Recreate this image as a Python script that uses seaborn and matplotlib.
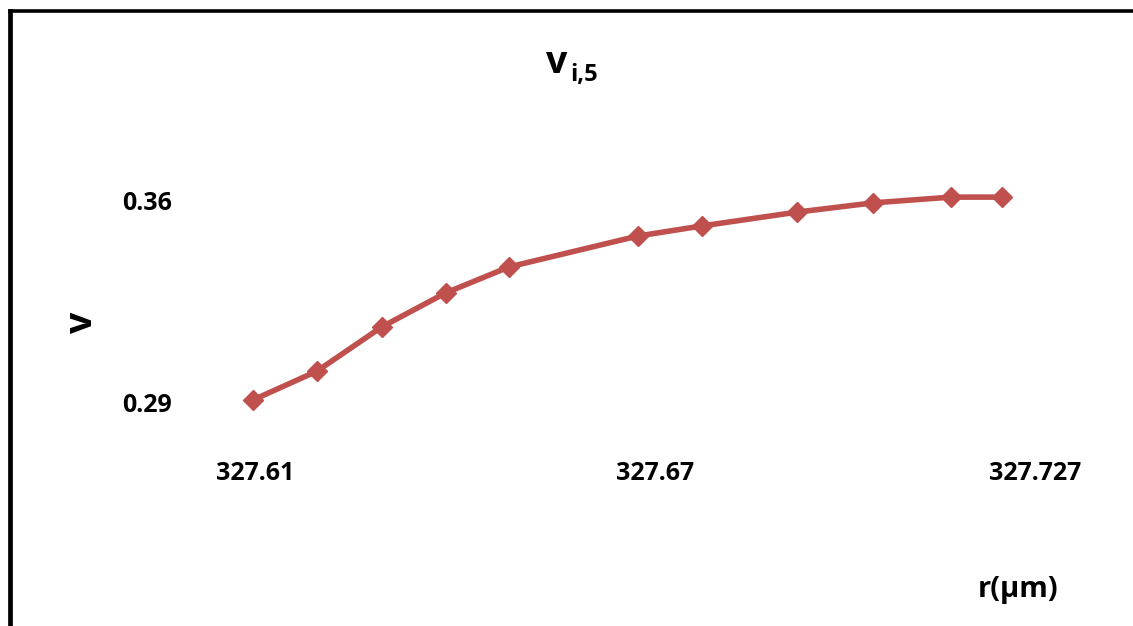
import matplotlib
matplotlib.use("Agg")
import matplotlib.pyplot as plt
from matplotlib.lines import Line2D
import seaborn as sns
import pandas as pd

# radius r (µm) and velocity v for profile i,5
r_um = [327.6097, 327.6193, 327.6290, 327.6386, 327.6481, 327.6674,
        327.6770, 327.6913, 327.7027, 327.7144, 327.7220]
v_vals = [0.2907, 0.3007, 0.3160, 0.3278, 0.3368, 0.3475,
          0.3510, 0.3558, 0.3590, 0.3610, 0.3610]

x_ticks = [327.61, 327.67, 327.727]
x_tick_labels = ["327.61", "327.67", "327.727"]
y_ticks = [0.29, 0.36]
y_tick_labels = ["0.29", "0.36"]

df = pd.DataFrame({"r": r_um, "v": v_vals})

sns.set_theme(style="white")
plt.rcParams["font.family"] = ["Open Sans", "DejaVu Sans"]
plt.rcParams["font.weight"] = "bold"
plt.rcParams["text.color"] = "black"
plt.rcParams["axes.labelcolor"] = "black"
plt.rcParams["xtick.color"] = "black"
plt.rcParams["ytick.color"] = "black"

W, H, DPI = 1133, 626, 100
fig = plt.figure(figsize=(W / DPI, H / DPI), dpi=DPI)
fig.patch.set_facecolor("white")

# plot area in pixels: left, right, top, bottom
L, R, T, B = 190, 1100, 150, 440
ax = fig.add_axes([L / W, 1 - B / H, (R - L) / W, (B - T) / H])

# data scale: pixels per unit
sx = 400 / 0.06
sy = 202 / 0.07
ax.set_xlim(327.61 - (255 - L) / sx, 327.61 + (R - 255) / sx)
ax.set_ylim(0.29 - (B - 402) / sy, 0.29 + (402 - T) / sy)

sns.lineplot(data=df, x="r", y="v", ax=ax, color="#C0504D", linewidth=4.0,
             marker="D", markersize=10.5, markeredgecolor="#C0504D",
             markeredgewidth=1, sort=False)

for s in ax.spines.values():
    s.set_visible(False)
ax.set_facecolor("none")

ax.set_xticks(x_ticks)
ax.set_xticklabels(x_tick_labels, fontsize=18, fontweight="bold")
ax.set_yticks(y_ticks)
ax.set_yticklabels(y_tick_labels, fontsize=18, fontweight="bold")
ax.tick_params(axis="x", length=0, pad=15)
ax.tick_params(axis="y", length=0, pad=13)
ax.grid(False)

ax.set_xlabel("r(µm)", fontsize=21, fontweight="bold")
ax.xaxis.set_label_coords((1018 - L) / (R - L), (B - 590) / (B - T))
ax.xaxis.label.set_va("center")
ax.set_ylabel("v", fontsize=27, fontweight="bold")
ax.yaxis.set_label_coords((82 - L) / (R - L), (B - 322) / (B - T))
ax.yaxis.label.set_va("center")

# title v with subscript i,5
fig.text(546 / W, 1 - 73 / H, "v", fontsize=27, fontweight="bold",
         ha="left", va="baseline")
fig.text(570 / W, 1 - 81 / H, "i,5", fontsize=17, fontweight="bold",
         ha="left", va="baseline")

# outer frame (left and top edges)
fig.add_artist(Line2D([9.5 / W, 9.5 / W], [0, 1 - 10.5 / H],
                      transform=fig.transFigure, color="black", linewidth=3.4,
                      solid_capstyle="projecting"))
fig.add_artist(Line2D([9.5 / W, 1], [1 - 10.5 / H, 1 - 10.5 / H],
                      transform=fig.transFigure, color="black", linewidth=2.6,
                      solid_capstyle="projecting"))

fig.savefig("out.png", dpi=DPI, facecolor="white")
